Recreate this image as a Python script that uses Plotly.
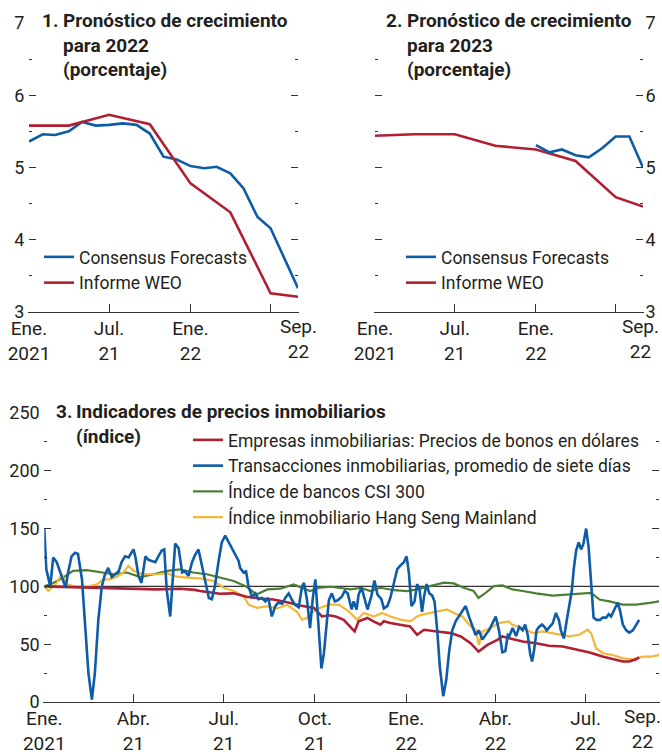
import pandas as pd
import plotly.graph_objects as go

# ---- panel 1 / 2: growth forecasts (monthly, Jan 2021 - Sep 2022)
months = pd.date_range("2021-01-01", "2022-09-01", freq="MS")
weo_dates = ["2021-01-01", "2021-04-01", "2021-07-01", "2021-10-01",
             "2022-01-01", "2022-04-01", "2022-07-01", "2022-09-01"]

cf_2022 = [5.36, 5.46, 5.45, 5.50, 5.63, 5.58, 5.59, 5.61, 5.59, 5.47, 5.15,
           5.11, 5.02, 4.99, 5.01, 4.92, 4.71, 4.32, 4.16, 3.74, 3.33]
weo_2022 = [5.58, 5.58, 5.73, 5.60, 4.78, 4.38, 3.26, 3.21]

cf_2023_months = months[12:]
cf_2023 = [5.31, 5.21, 5.25, 5.17, 5.14, 5.27, 5.43, 5.43, 5.00]
weo_2023 = [5.44, 5.46, 5.46, 5.30, 5.25, 5.09, 4.59, 4.46]

# ---- panel 3: property indicators (days since 1 Jan 2021, index value)
red_days = [0, 23, 46, 66, 90, 113, 137, 152, 157, 177, 191, 204, 218, 231, 246, 258,
            272, 280, 287, 294, 302, 309, 313, 317, 326, 332, 339, 342.5, 349, 359, 369,
            376, 383, 396, 410, 420, 430, 438, 447, 457, 462, 472, 482.5, 496, 509, 523,
            536, 550, 563, 573, 583.5, 590, 597, 600]
red_vals = [100, 99.5, 99, 98, 97.4, 97.4, 98, 97, 96, 93.6, 94, 91, 89.6, 88.6, 86, 83.4,
            81.4, 74, 75, 74, 71, 65, 61, 69.8, 72.7, 69.8, 66.8, 69.8, 68.3, 66.8, 65.4,
            58.2, 62.5, 61, 59.6, 56.7, 50.9, 43.6, 49.4, 53.8, 56.7, 54.4, 52.3, 50.9, 48.6, 48,
            45.7, 42.8, 39.3, 37, 35, 35, 37, 38.7]

blue_days = [0, 2, 6, 9, 12.5, 16, 19, 21.5, 24, 27.5, 31, 34, 38, 41, 44.5, 48, 51, 54.5,
             58, 61, 64.5, 68, 71, 75, 78, 81.5, 85, 88, 90, 92, 95, 98, 102, 105, 108, 112,
             115, 118.5, 121, 123.5, 127, 129.5, 132, 135.5, 139, 142, 145.5, 149, 152,
             155.5, 159, 162, 166, 169, 172, 176, 179, 182.5, 186, 189, 192.5, 196, 197.5,
             201, 203.5, 206, 209.5, 213, 216, 219.5, 223, 226, 229.5, 233, 236, 240, 243,
             246.5, 250, 253, 256.6, 260, 262, 265, 268, 270.7, 273.4, 276, 279.5, 282, 285,
             287, 290, 293, 296, 300, 303, 306, 310, 312, 315, 317, 320, 323, 326, 330, 333,
             336, 340, 342.5, 346, 349, 352.6, 356, 359, 362.7, 365.4, 367.7, 370.4, 373.4,
             376, 378.5, 381, 383, 385.6, 388.3, 391.3, 393.6, 396.3, 399, 402.4, 405.4,
             408.5, 411.5, 415, 418, 421.6, 425, 428.3, 431.7, 435, 438.4, 441.8, 445, 448.5,
             452, 455.3, 458.6, 462, 465, 467.5, 469, 472.4, 475.8, 479, 482.5, 485, 487.6,
             490, 492, 494, 496.6, 499, 502, 504.4, 506.7, 509.4, 512.8, 516, 519, 521, 524,
             527, 529.6, 532, 534, 536.4, 539, 541.4, 543.8, 546.5, 549, 551.5, 554, 557,
             560.6, 563, 566.7, 569.4, 571.7, 575, 578.5, 581, 583.5, 587, 590, 593.6, 597, 600]
blue_vals = [150, 115, 100, 125, 121, 112, 105, 99, 112, 126, 129, 128, 106, 65, 25, 2, 25, 71,
             100, 110, 116, 108, 110, 113, 121, 126, 125, 129, 132, 125, 109, 103, 126, 123, 122, 121,
             126, 131, 132, 97, 74, 106, 137, 133, 112, 113, 109, 121, 127,
             132, 118, 106, 90, 89, 100, 123, 138, 144, 138, 134, 128, 122, 116,
             112, 113, 100, 91, 94, 89, 90, 87, 90, 74, 83, 86, 85, 90,
             94, 88, 84, 82, 100, 103, 88, 64, 89, 106, 71, 29, 42, 71,
             88, 94, 87, 88, 91, 96, 94, 80, 87, 80, 93, 99, 89, 80, 92, 105,
             93, 89, 81, 83, 90, 103, 115, 118, 121, 126, 112, 83, 87,
             102, 97, 78, 91, 102, 94, 92, 87, 62, 30, 5, 19,
             45, 62, 70, 74, 78, 83, 74, 65, 58, 62, 54, 58, 62,
             68, 74, 62, 43, 44, 58, 57, 64, 57, 65, 62, 67, 58,
             42, 35, 45, 62, 65, 67, 65, 62, 65, 68, 77, 71, 62, 55,
             71, 84, 96, 115, 131, 138, 132, 137, 150, 134, 106, 73, 71,
             71, 73, 73, 76, 74, 80, 86, 78, 67, 62, 60, 62, 67, 71]

green_days = [0, 9, 19, 29, 43, 56, 70, 83, 97, 110, 124, 137, 150, 164, 177, 191, 204, 214,
              225, 238, 251.5, 258, 268, 278, 289, 309, 319, 329, 339, 352.6, 366, 376, 389.6,
              403, 413, 423, 433, 438, 443, 453.6, 462, 472, 482.5, 496, 512.8, 526, 539.7,
              551.5, 560, 570, 583.5, 597, 610.5, 621]
green_vals = [100, 103, 107.6, 113.4, 114, 112, 110.5, 112, 108, 110.5, 113.4, 114.8, 112, 110.5,
              108, 104.7, 99.7, 93, 97.4, 98, 101.7, 99.7, 96, 99, 99.7, 97.4, 98.8, 96, 98.8,
              96.7, 96, 97.4, 100.3, 103.2, 102.6, 98.8, 96, 90, 93, 100.3, 100.9, 97.4, 96,
              93.9, 92.1, 93, 94, 94.4, 88.6, 87.1, 84.2, 84.2, 85.7, 87.1]

yellow_days = [0, 4, 12.5, 17.5, 22.6, 32.7, 42.8, 52.9, 59.6, 66.3, 73, 79.8, 84.8, 90, 100,
               113.5, 123.6, 133.7, 143.8, 157, 170.7, 180.8, 191, 201, 206, 214.5, 224.6,
               234.7, 244.8, 254.9, 260, 265, 273.4, 287, 297, 307, 315.5, 322.3, 332.4, 340.8,
               349.2, 359.3, 369.4, 376, 381, 389.6, 399.7, 406.4, 413, 421.6, 430, 435, 438.4,
               441.8, 450, 458.6, 468.7, 472, 482.5, 492.6, 502.7, 512.8, 523, 529.6, 539.7,
               548, 551.5, 556.6, 563.3, 573.4, 583.5, 593.6, 603.7, 612, 621]
yellow_vals = [100, 96, 103, 110.5, 101.7, 99.7, 99.7, 101.7, 106, 106, 108.4, 112, 117.7, 113.4,
               110.5, 110.5, 111.4, 108.4, 107.6, 107, 104.7, 98.9, 96, 91.5, 84.2, 81.4, 82.8,
               81, 84, 78, 71.2, 72.6, 79.9, 84.2, 84.2, 78.5, 71.2, 77, 74, 77,
               74, 71.2, 69.8, 74, 75.6, 77, 78.5, 80, 77, 74, 65.4, 62.5, 49.4,
               61, 63.9, 68.3, 69.8, 66.8, 63.9, 59.6, 61, 59.6, 58.2, 56.7, 58.2,
               62.5, 59.6, 46.5, 42.2, 40.7, 37.8, 37, 39.3, 39.3, 40.7]

BLUE = "#0E5CA8"
RED = "#B01F32"
GREEN = "#4C7F33"
YELLOW = "#F6B637"
INK = "#231F20"
FONT = "Roboto, Liberation Sans, sans-serif"

W, H = 662, 755


def fx(px):
    return px / W


def fy(py):
    return 1 - py / H


base = pd.Timestamp("2021-01-01")


def to_dates(days):
    return base + pd.to_timedelta(days, unit="D")


fig = go.Figure()

# panel 1
fig.add_trace(go.Scatter(x=months, y=cf_2022, mode="lines", name="Consensus Forecasts",
                         line=dict(color=BLUE, width=2.6), xaxis="x", yaxis="y", legend="legend"))
fig.add_trace(go.Scatter(x=weo_dates, y=weo_2022, mode="lines", name="Informe WEO",
                         line=dict(color=RED, width=2.6), xaxis="x", yaxis="y", legend="legend"))
# panel 2
fig.add_trace(go.Scatter(x=weo_dates, y=weo_2023, mode="lines", name="Informe WEO",
                         line=dict(color=RED, width=2.6), xaxis="x2", yaxis="y2",
                         legend="legend2", legendrank=2))
fig.add_trace(go.Scatter(x=cf_2023_months, y=cf_2023, mode="lines", name="Consensus Forecasts",
                         line=dict(color=BLUE, width=2.6), xaxis="x2", yaxis="y2",
                         legend="legend2", legendrank=1))
# panel 3
fig.add_trace(go.Scatter(x=to_dates(green_days), y=green_vals, mode="lines",
                         name="Índice de bancos CSI 300", line=dict(color=GREEN, width=2.2),
                         xaxis="x3", yaxis="y3", legend="legend3", legendrank=3))
fig.add_trace(go.Scatter(x=to_dates(yellow_days), y=yellow_vals, mode="lines",
                         name="Índice inmobiliario Hang Seng Mainland", line=dict(color=YELLOW, width=2.2),
                         xaxis="x3", yaxis="y3", legend="legend3", legendrank=4))
fig.add_trace(go.Scatter(x=to_dates(red_days), y=red_vals, mode="lines",
                         name="Empresas inmobiliarias: Precios de bonos en dólares",
                         line=dict(color=RED, width=2.6),
                         xaxis="x3", yaxis="y3", legend="legend3", legendrank=1))
fig.add_trace(go.Scatter(x=to_dates(blue_days), y=blue_vals, mode="lines",
                         name="Transacciones inmobiliarias, promedio de siete días",
                         line=dict(color=BLUE, width=2.6),
                         xaxis="x3", yaxis="y3", legend="legend3", legendrank=2))


def xax(domain, anchor, tickvals, ticktext, rng):
    return dict(domain=domain, anchor=anchor, range=rng, tickvals=tickvals, ticktext=ticktext,
                ticks="inside", ticklen=8, tickwidth=1.3, tickcolor="#333",
                showline=True, linecolor="#333", linewidth=1.3, automargin=False,
                ticklabelstandoff=-1, ticklabeloverflow="allow",
                showgrid=False, zeroline=False, fixedrange=True,
                tickfont=dict(family=FONT, size=19, color=INK))


def yax(domain, anchor, rng, dtick, side="left", standoff=0):
    return dict(domain=domain, anchor=anchor, range=rng, dtick=dtick, tick0=rng[0], side=side,
                ticks="inside", ticklen=7, tickwidth=1.3, tickcolor="#333",
                minor=dict(dtick=dtick / 2, ticks="inside", ticklen=3, tickcolor="#333", tickwidth=1.3),
                showline=True, linecolor="rgba(0,0,0,0)", mirror="ticks", automargin=False,
                ticklabelstandoff=standoff, ticklabeloverflow="allow",
                showgrid=False, zeroline=False, fixedrange=True,
                tickfont=dict(family=FONT, size=18, color=INK))


top_ticks = ["2021-01-01", "2021-07-01", "2022-01-01", "2022-07-01"]
top_text = ["Ene.<br>2021", "Jul.<br>21", "Ene.<br>22", ""]
top_range = ["2021-01-01", "2022-09-01"]

bot_ticks = ["2021-01-01", "2021-04-01", "2021-07-01", "2021-10-01",
             "2022-01-01", "2022-04-01", "2022-07-01"]
bot_text = ["Ene.<br>2021", "Abr.<br>21", "Jul.<br>21", "Oct.<br>21",
            "Ene.<br>22", "Abr.<br>22", "Jul.<br>22"]

ytop = [fy(312), fy(23)]
ybot = [fy(702), fy(413)]

legend_common = dict(bgcolor="rgba(0,0,0,0)", tracegroupgap=0, xanchor="left",
                     yanchor="top", traceorder="normal")

fig.update_layout(
    width=W, height=H,
    margin=dict(l=0, r=0, t=0, b=0),
    paper_bgcolor="white", plot_bgcolor="white",
    font=dict(family=FONT, size=18, color=INK),
    xaxis=xax([fx(29), fx(298)], "y", top_ticks, top_text, top_range),
    yaxis=yax(ytop, "x", [3, 7], 1),
    xaxis2=xax([fx(375), fx(643)], "y2", top_ticks, top_text, top_range),
    yaxis2=yax(ytop, "x2", [3, 7], 1, side="right", standoff=-2),
    xaxis3=xax([fx(44.3), fx(659)], "y3", bot_ticks, bot_text, ["2021-01-01", "2022-09-13"]),
    yaxis3=yax(ybot, "x3", [0, 250], 50),
    legend=dict(x=fx(39), y=fy(239), font=dict(family=FONT, size=17.5, color=INK),
                **legend_common),
    legend2=dict(x=fx(401), y=fy(239), font=dict(family=FONT, size=17.5, color=INK),
                 **legend_common),
    legend3=dict(x=fx(188), y=fy(422), font=dict(family=FONT, size=17.5, color=INK),
                 **legend_common),
    showlegend=True,
    shapes=[dict(type="line", xref="x3 domain", x0=0, x1=1, yref="y3", y0=100, y1=100,
                 line=dict(color="#333", width=1.2), layer="below")],
)

title_font = dict(family=FONT, size=19, color=INK, weight="bold")
annots = [
    dict(x=40, y=20, text="1."),
    dict(x=61, y=20, text="Pronóstico de crecimiento<br>para 2022<br>(porcentaje)"),
    dict(x=384, y=20, text="2."),
    dict(x=405, y=20, text="Pronóstico de crecimiento<br>para 2023<br>(porcentaje)"),
    dict(x=54, y=411, text="3."),
    dict(x=74, y=411, text="Indicadores de precios inmobiliarios<br>(índice)"),
]
for a in annots:
    fig.add_annotation(x=fx(a["x"]), y=fy(a["y"] - 13), xref="paper", yref="paper",
                       text=a["text"], xanchor="left", yanchor="top", align="left",
                       showarrow=False, font=title_font)

# "Sep. 22" end labels (no tick mark in the original)
for xr, yr, xv in [("x", "y", "2022-09-01"), ("x2", "y2", "2022-08-26"), ("x3", "y3", "2022-08-27")]:
    fig.add_annotation(x=xv, xref=xr, y=0, yref=yr + " domain", text="Sep.<br>22",
                       showarrow=False, yanchor="top", yshift=-1, align="center",
                       font=dict(family=FONT, size=19, color=INK))

# drop the browser's default page margin so the figure sits at the window's corner
fig.write_html("out.html", config={"displayModeBar": False},
               post_script="document.body.style.margin='0';")
